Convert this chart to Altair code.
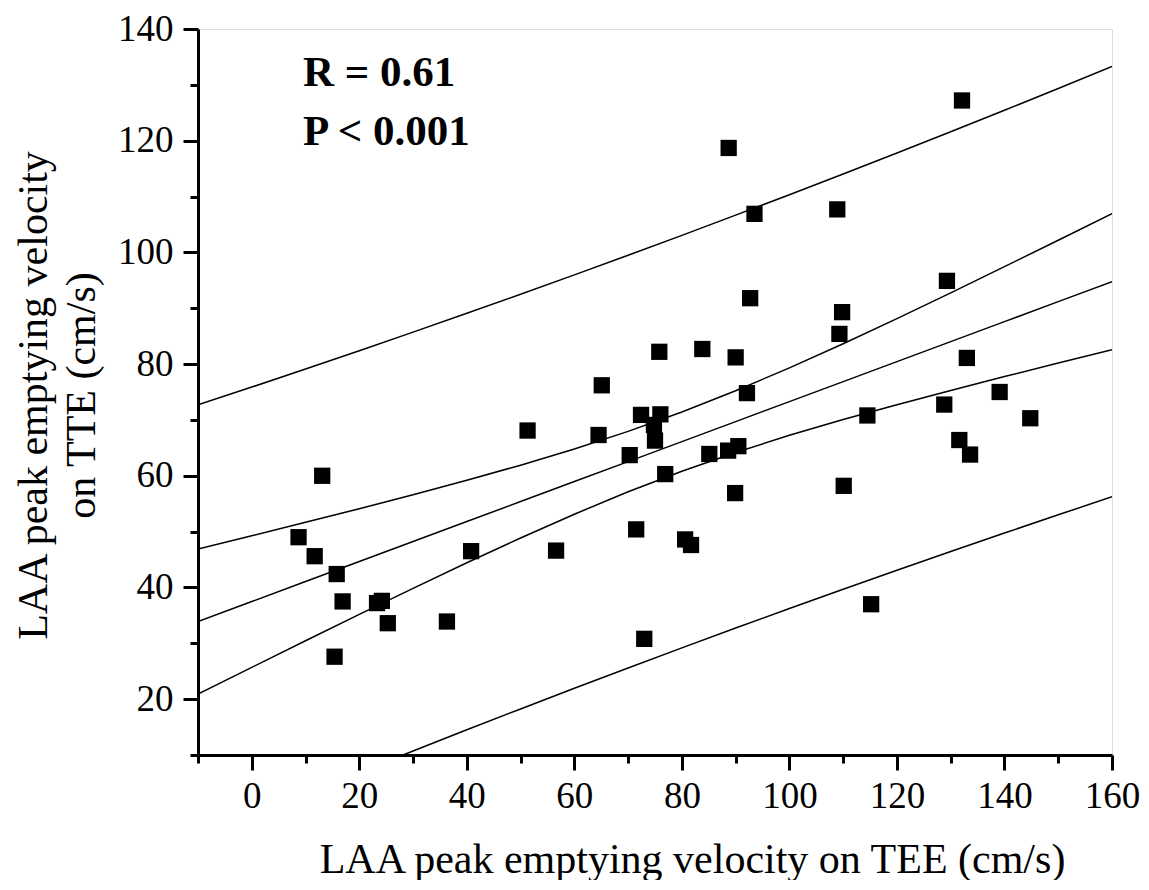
import altair as alt
import pandas as pd

# Scatter data
tee = [8.7, 11.7, 13.1, 15.8, 15.4, 16.9, 23.3, 24.2, 25.3, 36.3, 40.8, 51.3, 56.6,
       64.5, 65.1, 70.3, 71.5, 72.4, 73.0, 74.8, 75.0, 76.0, 75.8, 76.9, 80.6, 81.7,
       83.8, 85.1, 88.7, 88.6, 89.9, 90.0, 90.5, 92.1, 92.7, 93.5, 108.9, 109.3, 109.8,
       110.1, 114.5, 115.2, 128.8, 129.3, 131.6, 132.1, 133.0, 133.6, 139.1, 144.8]
tte = [49.0, 45.6, 60.0, 42.4, 27.6, 37.5, 37.2, 37.6, 33.6, 33.9, 46.5, 68.1, 46.6,
       67.3, 76.2, 63.7, 50.4, 70.9, 30.8, 69.1, 66.3, 71.0, 82.2, 60.3, 48.6, 47.6,
       82.7, 63.9, 118.7, 64.5, 56.9, 81.2, 65.3, 74.8, 91.8, 106.9, 107.7, 85.4, 89.3,
       58.2, 70.8, 37.0, 72.75, 94.9, 66.4, 127.2, 81.1, 63.8, 75.0, 70.3]

# Fit line and bands
band_x = [-10, 0, 10, 20, 30, 40, 50, 60, 70, 80, 90, 100, 110, 120, 130, 140, 150, 160]
fit_y = [33.90, 37.48, 41.06, 44.64, 48.22, 51.80, 55.38, 58.96, 62.54, 66.12, 69.70,
         73.28, 76.86, 80.44, 84.02, 87.60, 91.18, 94.76]
conf_upper = [46.90, 49.26, 51.66, 54.10, 56.60, 59.18, 61.90, 64.80, 67.95, 71.42, 75.22,
              79.32, 83.65, 88.15, 92.76, 97.44, 102.18, 106.95]
conf_lower = [20.90, 25.70, 30.46, 35.18, 39.84, 44.42, 48.86, 53.12, 57.13, 60.82, 64.18,
              67.24, 70.07, 72.73, 75.28, 77.76, 80.18, 82.57]
pred_upper = [72.69, 75.88, 79.12, 82.40, 85.72, 89.09, 92.51, 95.97, 99.49, 103.05, 106.67,
              110.33, 114.04, 117.80, 121.60, 125.45, 129.35, 133.29]
pred_lower = [-4.89, -0.92, 3.00, 6.88, 10.72, 14.51, 18.25, 21.95, 25.59, 29.19, 32.73,
              36.23, 39.68, 43.08, 46.44, 49.75, 53.01, 56.23]

x_ticks = list(range(-10, 161, 10))
y_ticks = list(range(10, 141, 10))

pts = pd.DataFrame({"tee": tee, "tte": tte})
rows = []
for name, ys in [("fit", fit_y), ("cu", conf_upper), ("cl", conf_lower),
                 ("pu", pred_upper), ("pl", pred_lower)]:
    for xv, yv in zip(band_x, ys):
        rows.append({"series": name, "tee": xv, "tte": yv})
lines_df = pd.DataFrame(rows)

FONT = "Liberation Serif"

x_scale = alt.Scale(domain=[-10, 160], nice=False, zero=False)
y_scale = alt.Scale(domain=[10, 140], nice=False, zero=False)

major = "datum.value % 20 === 0"

x_axis = alt.Axis(
    values=x_ticks, labelExpr=f"{major} ? datum.label : ''",
    tickSize={"condition": {"test": major, "value": 15}, "value": 8},
    tickWidth=3, domainWidth=3, tickColor="black", domainColor="black",
    labelFont=FONT, labelFontSize=37, labelColor="black", labelPadding=8,
    labelOverlap=False, labelFlush=False, grid=False,
    title="LAA peak emptying velocity on TEE (cm/s)",
    titleFont=FONT, titleFontSize=42, titleFontWeight="normal", titleColor="black",
    titleX=494, titleY=117, titleBaseline="alphabetic", titleAlign="center",
)
y_axis = alt.Axis(
    values=y_ticks, labelExpr=f"{major} ? datum.label : ''",
    tickSize={"condition": {"test": major, "value": 15}, "value": 8},
    tickWidth=3, domainWidth=3, tickColor="black", domainColor="black",
    labelFont=FONT, labelFontSize=37, labelColor="black", labelPadding=10,
    labelOverlap=False, labelFlush=False, grid=False,
    title=["LAA peak emptying velocity", "on TTE (cm/s)"],
    titleFont=FONT, titleFontSize=42, titleFontWeight="normal", titleColor="black",
    titleAngle=270, titleX=-152, titleY=366, titleBaseline="alphabetic",
    titleAlign="center", titleLineHeight=48,
)

lines = alt.Chart(lines_df).mark_line(color="black", strokeWidth=1.5, clip=True).encode(
    x=alt.X("tee:Q", scale=x_scale, axis=x_axis),
    y=alt.Y("tte:Q", scale=y_scale, axis=y_axis),
    detail="series:N",
)

points = alt.Chart(pts).mark_point(shape="square", filled=True, color="black",
                                   opacity=1, size=265, strokeWidth=0).encode(
    x=alt.X("tee:Q", scale=x_scale),
    y=alt.Y("tte:Q", scale=y_scale),
)

ann_df = pd.DataFrame({"label": ["R = 0.61", "P < 0.001"], "py": [57, 116]})
ann = alt.Chart(ann_df).mark_text(font=FONT, fontSize=43, fontWeight="bold",
                                  align="left", baseline="alphabetic", color="black").encode(
    x=alt.value(105), y=alt.Y("py:Q", scale=None), text="label:N"
)

chart = alt.layer(lines, points, ann).properties(
    width=914, height=726,
    padding={"left": 190, "top": 21, "right": 28, "bottom": 125},
    autosize=alt.AutoSizeParams(type="none"),
).configure_view(stroke=None).configure(background="white")

chart.save("out.html", embed_options={"renderer": "svg", "actions": False})
